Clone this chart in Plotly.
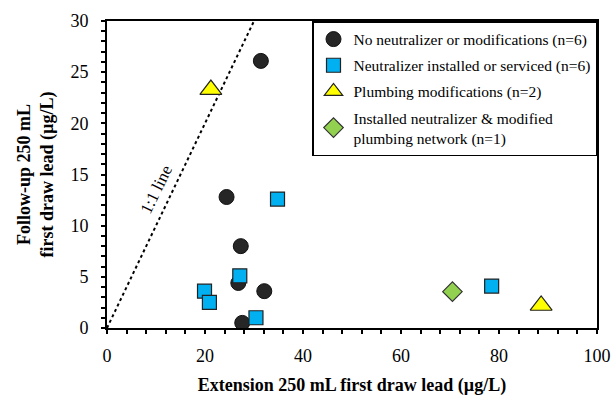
import plotly.graph_objects as go

# Data
none_x = [31.4, 24.4, 27.3, 26.8, 32.1, 27.6]
none_y = [26.1, 12.8, 8.0, 4.4, 3.6, 0.5]

neut_x = [34.8, 27.1, 19.9, 20.9, 30.4, 78.5]
neut_y = [12.6, 5.1, 3.6, 2.5, 1.0, 4.1]

plumb_x = [21.2, 88.6]
plumb_y = [23.3, 2.2]

both_x = [70.5]
both_y = [3.55]

line_x = [0, 30]
line_y = [0, 30]

FONT = "Liberation Serif"

fig = go.Figure()

fig.add_trace(go.Scatter(
    x=line_x, y=line_y, mode="lines", showlegend=False,
    line=dict(color="black", width=2, dash="dot"), hoverinfo="skip"))

fig.add_trace(go.Scatter(
    x=none_x, y=none_y, mode="markers", name="No neutralizer or modifications (n=6)",
    legendgroup="a",
    marker=dict(symbol="circle", size=15, color="#262626", line=dict(color="#111111", width=1))))
fig.add_trace(go.Scatter(
    x=neut_x, y=neut_y, mode="markers", name="Neutralizer installed or serviced (n=6)",
    legendgroup="b",
    marker=dict(symbol="square", size=14, color="#00B0F0", line=dict(color="#222222", width=1.2))))
fig.add_trace(go.Scatter(
    x=plumb_x, y=plumb_y, mode="markers", name="Plumbing modifications (n=2)",
    legendgroup="c",
    marker=dict(symbol="triangle-up", size=19, color="#FFFF00", line=dict(color="#222222", width=1.2))))
fig.add_trace(go.Scatter(
    x=both_x, y=both_y, mode="markers",
    name="Installed neutralizer & modified<br>plumbing network (n=1)",
    legendgroup="d",
    marker=dict(symbol="diamond", size=15, color="#92D050", line=dict(color="#333333", width=1.2))))

fig.add_annotation(
    x=10.1, y=13.5, text="1:1 line", showarrow=False, textangle=-64,
    font=dict(family=FONT, size=17, color="black"))

fig.update_layout(
    width=615, height=396,
    margin=dict(l=107, r=18, t=21, b=68),
    paper_bgcolor="white", plot_bgcolor="white",
    font=dict(family=FONT, color="black"),
    legend=dict(
        x=1, y=1, xanchor="right", yanchor="top",
        bordercolor="black", borderwidth=1.5, bgcolor="white",
        font=dict(family=FONT, size=15.5, color="black"),
        traceorder="grouped", tracegroupgap=3,
        itemwidth=30),
)

fig.update_xaxes(
    range=[0, 100], dtick=20, tick0=0, automargin=False,
    showline=True, linecolor="black", linewidth=2, mirror=True,
    ticks="outside", ticklen=4, tickwidth=2, tickcolor="black",
    minor=dict(dtick=4, ticks="outside", ticklen=4, tickwidth=2, tickcolor="black"),
    showgrid=False, zeroline=False,
    tickfont=dict(family=FONT, size=18, color="black"),
    ticklabelstandoff=6,
    title=dict(text="<b>Extension 250 mL first draw lead (µg/L)</b>",
               font=dict(family=FONT, size=18, color="black"), standoff=18),
)
fig.update_yaxes(
    range=[0, 30], dtick=5, tick0=0, automargin=False,
    showline=True, linecolor="black", linewidth=2, mirror=True,
    ticks="outside", ticklen=4, tickwidth=2, tickcolor="black",
    minor=dict(dtick=1, ticks="outside", ticklen=4, tickwidth=2, tickcolor="black"),
    showgrid=False, zeroline=False,
    tickfont=dict(family=FONT, size=18, color="black"),
    ticklabelstandoff=9,
    title=dict(text="<b>Follow-up 250 mL<br>first draw lead (µg/L)</b>",
               font=dict(family=FONT, size=18, color="black"), standoff=12),
)

fig.write_html("out.html")
